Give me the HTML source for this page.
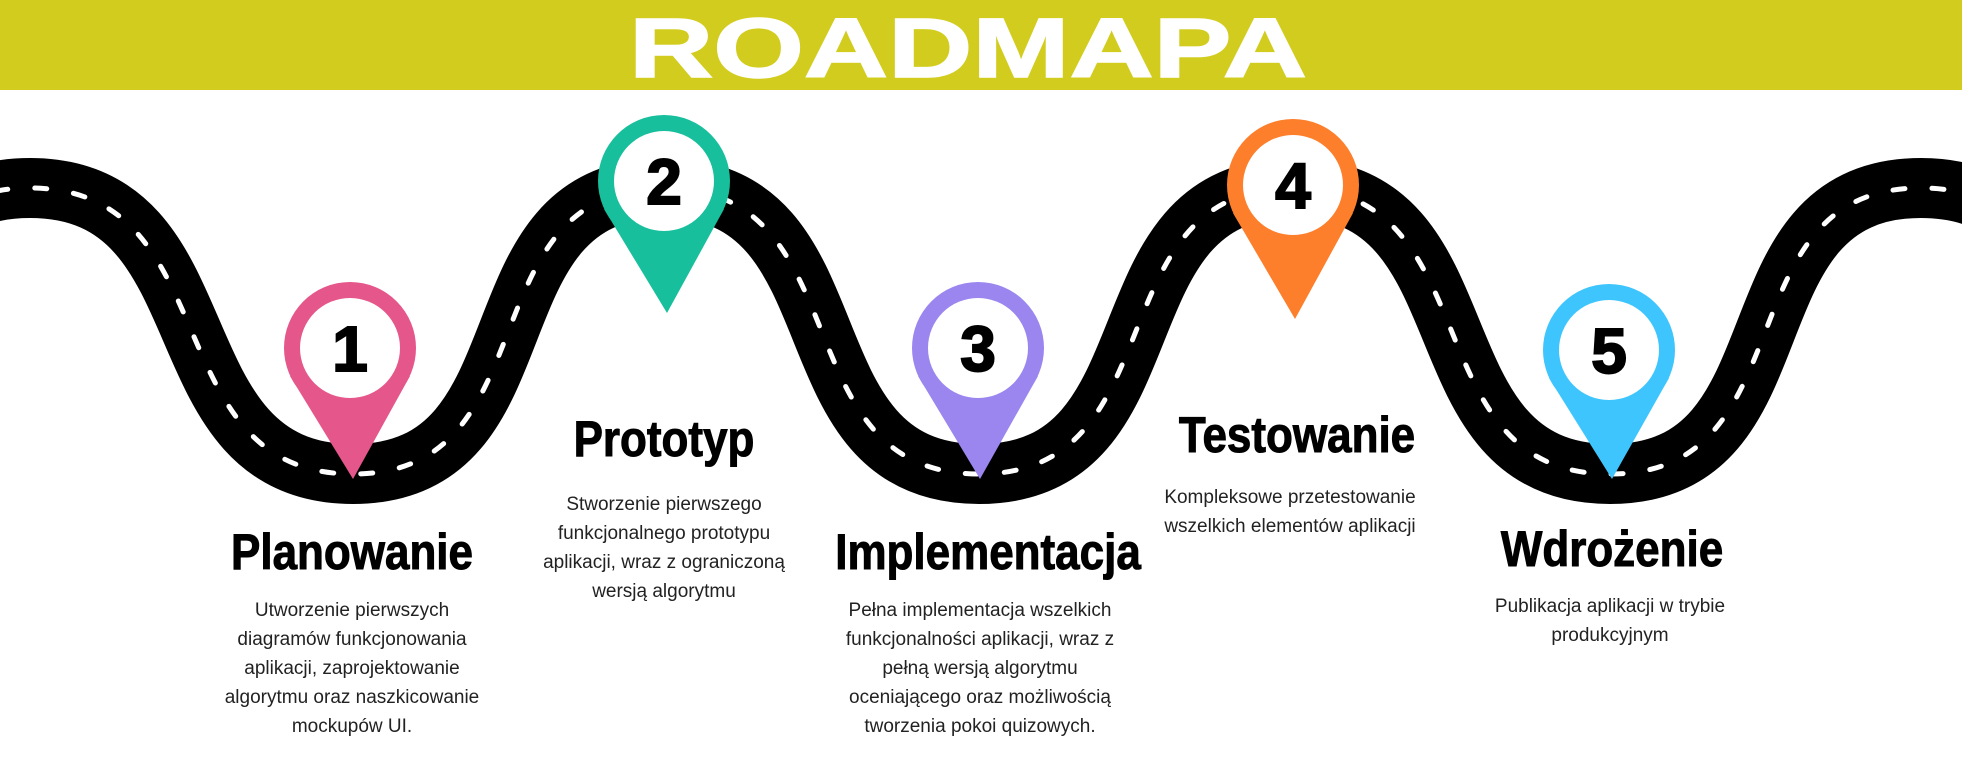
<!DOCTYPE html>
<html><head><meta charset="utf-8"><style>
html,body{margin:0;padding:0;background:#fff;}
svg{display:block;}
.t{font-family:"Liberation Sans",sans-serif;font-weight:bold;font-size:50px;fill:#000;text-anchor:middle;stroke:#000;stroke-width:1;}
.b{font-family:"Liberation Sans",sans-serif;font-size:19px;fill:#222;text-anchor:middle;}
.n{font-family:"Liberation Sans",sans-serif;font-weight:900;font-size:64px;fill:#000;text-anchor:middle;stroke:#000;stroke-width:2;}
</style></head><body>
<svg width="1962" height="763" viewBox="0 0 1962 763" xmlns="http://www.w3.org/2000/svg">
<rect x="0" y="0" width="1962" height="90" fill="#d2cc1f"/>
<text x="629" y="77" textLength="678" lengthAdjust="spacingAndGlyphs" font-family="Liberation Sans, sans-serif" font-weight="bold" font-size="84" fill="#fff" stroke="#fff" stroke-width="1.5">ROADMAPA</text>

<path d="M -290 474 C -90 474 -170 188 30 188 C 230 188 153 474 353 474 C 553 474 464 188 664 188 C 864 188 779 474 979 474 C 1179 474 1093 188 1293 188 C 1493 188 1410 474 1610 474 C 1810 474 1721 188 1921 188 C 2121 188 2050 474 2250 474" fill="none" stroke="#000" stroke-width="60"/>
<path d="M -290 474 C -90 474 -170 188 30 188 C 230 188 153 474 353 474 C 553 474 464 188 664 188 C 864 188 779 474 979 474 C 1179 474 1093 188 1293 188 C 1493 188 1410 474 1610 474 C 1810 474 1721 188 1921 188 C 2121 188 2050 474 2250 474" fill="none" stroke="#fff" stroke-width="5" stroke-linecap="round" stroke-dasharray="12 27"/>

<g>
<circle cx="350" cy="348" r="66" fill="#e5568a"/><polygon points="290,376 410,376 353,479" fill="#e5568a"/><circle cx="350" cy="348" r="50" fill="#fff"/><text class="n" x="350" y="371">1</text>
<circle cx="664" cy="181" r="66" fill="#17bf9c"/><polygon points="604,209 724,209 667,313" fill="#17bf9c"/><circle cx="664" cy="181" r="50" fill="#fff"/><text class="n" x="664" y="204">2</text>
<circle cx="978" cy="348" r="66" fill="#9b86ef"/><polygon points="918,376 1038,376 980,479" fill="#9b86ef"/><circle cx="978" cy="348" r="50" fill="#fff"/><text class="n" x="978" y="371">3</text>
<circle cx="1293" cy="185" r="66" fill="#fd7e2b"/><polygon points="1233,213 1353,213 1295,319" fill="#fd7e2b"/><circle cx="1293" cy="185" r="50" fill="#fff"/><text class="n" x="1293" y="208">4</text>
<circle cx="1609" cy="350" r="66" fill="#3fc5fd"/><polygon points="1549,378 1669,378 1612,479" fill="#3fc5fd"/><circle cx="1609" cy="350" r="50" fill="#fff"/><text class="n" x="1609" y="373">5</text>
</g>

<g transform="translate(352,0) scale(0.88,1)"><text class="t" x="0" y="569">Planowanie</text></g>
<g transform="translate(664,0) scale(0.88,1)"><text class="t" x="0" y="456">Prototyp</text></g>
<g transform="translate(988,0) scale(0.88,1)"><text class="t" x="0" y="569">Implementacja</text></g>
<g transform="translate(1297,0) scale(0.88,1)"><text class="t" x="0" y="452">Testowanie</text></g>
<g transform="translate(1612,0) scale(0.88,1)"><text class="t" x="0" y="566">Wdrożenie</text></g>

<g>
<text class="b" x="352" y="616">Utworzenie pierwszych</text>
<text class="b" x="352" y="645">diagramów funkcjonowania</text>
<text class="b" x="352" y="674">aplikacji, zaprojektowanie</text>
<text class="b" x="352" y="703">algorytmu oraz naszkicowanie</text>
<text class="b" x="352" y="732">mockupów UI.</text>

<text class="b" x="664" y="510">Stworzenie pierwszego</text>
<text class="b" x="664" y="539">funkcjonalnego prototypu</text>
<text class="b" x="664" y="568">aplikacji, wraz z ograniczoną</text>
<text class="b" x="664" y="597">wersją algorytmu</text>

<text class="b" x="980" y="616">Pełna implementacja wszelkich</text>
<text class="b" x="980" y="645">funkcjonalności aplikacji, wraz z</text>
<text class="b" x="980" y="674">pełną wersją algorytmu</text>
<text class="b" x="980" y="703">oceniającego oraz możliwością</text>
<text class="b" x="980" y="732">tworzenia pokoi quizowych.</text>

<text class="b" x="1290" y="503">Kompleksowe przetestowanie</text>
<text class="b" x="1290" y="532">wszelkich elementów aplikacji</text>

<text class="b" x="1610" y="612">Publikacja aplikacji w trybie</text>
<text class="b" x="1610" y="641">produkcyjnym</text>
</g>
</svg>
</body></html>
